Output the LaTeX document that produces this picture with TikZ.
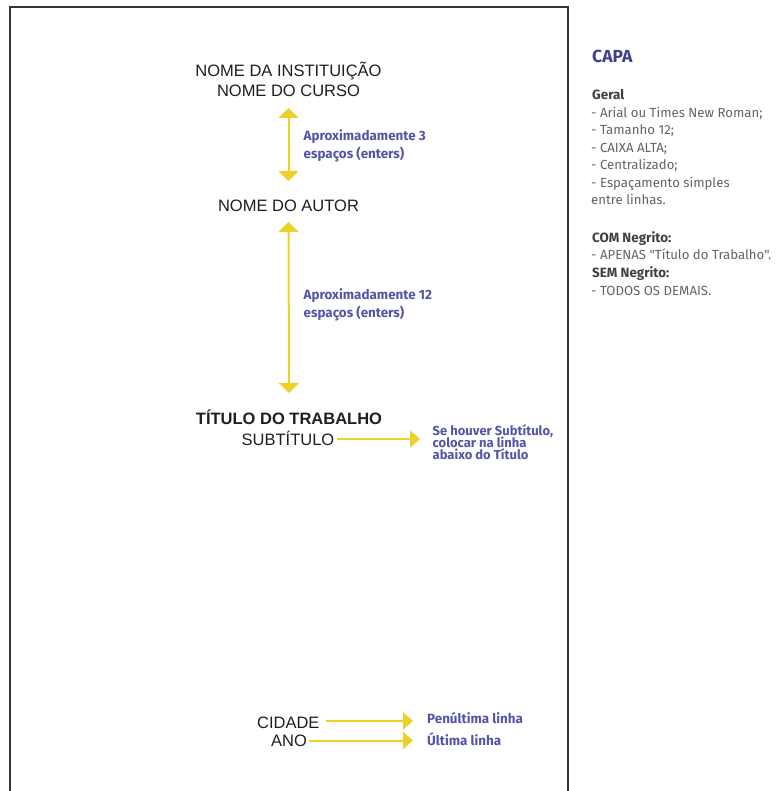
\documentclass[tikz,border=0pt]{standalone}
\usepackage{fontspec}
\setmainfont{Liberation Sans}
\newfontfamily\fira{Fira Sans}
\usetikzlibrary{arrows.meta}
\definecolor{ayellow}{RGB}{236,210,40}
\definecolor{lblue}{RGB}{84,84,168}
\definecolor{capablue}{RGB}{64,64,145}
\definecolor{tgray}{RGB}{100,100,100}
\definecolor{hgray}{RGB}{64,64,64}
\begin{document}
\begin{tikzpicture}[x=1pt,y=-1pt,
  pagetext/.style={font=\fontsize{16.5}{19}\selectfont, text=black!88, inner sep=0pt, anchor=base},
  note/.style={font=\fira\bfseries\fontsize{13.4}{15}\selectfont, text=lblue, inner sep=0pt, anchor=base west},
  side/.style={font=\fira\fontsize{13.2}{15}\selectfont, text=tgray, inner sep=0pt, anchor=base west},
  sidehead/.style={font=\fira\bfseries\fontsize{13.4}{15}\selectfont, text=hgray, inner sep=0pt, anchor=base west},
  yarrow/.style={draw=ayellow, line width=2pt, -{Triangle[width=17pt,length=10pt]}},
  ydouble/.style={draw=ayellow, line width=2pt, {Triangle[width=20pt,length=10pt]}-{Triangle[width=20pt,length=10pt]}},
  pageborder/.style={draw=black!80, line width=2pt}
]
\useasboundingbox (0,0) rectangle (777,791);
\fill[white] (0,0) rectangle (777,791);
\draw[pageborder] (10,795) -- (10,7) -- (568,7) -- (568,795);

% left page texts
\node[pagetext] (inst) at (288.5,77) {NOME DA INSTITUIÇÃO};
\node[pagetext] (curso) at (288.5,97) {NOME DO CURSO};
\node[pagetext] (autor) at (288.5,212) {NOME DO AUTOR};
\node[pagetext, font=\bfseries\fontsize{16.5}{19}\selectfont] (titulo) at (289,424) {TÍTULO DO TRABALHO};
\node[pagetext] (sub) at (288,445) {SUBTÍTULO};
\node[pagetext] (cidade) at (288.3,728) {CIDADE};
\node[pagetext] (ano) at (289,746.5) {ANO};

% notes
\node[note] (n1a) at (303.5,140.7) {Aproximadamente 3};
\node[note] (n1b) at (303.5,158.5) {espaços (enters)};
\node[note] (n2a) at (303.5,299.5) {Aproximadamente 12};
\node[note] (n2b) at (303.5,317.5) {espaços (enters)};
\node[note, font=\fira\bfseries\fontsize{13}{15}\selectfont] (n3a) at (432.5,435.5) {Se houver Subtítulo,};
\node[note, font=\fira\bfseries\fontsize{13}{15}\selectfont] (n3b) at (432.5,447.5) {colocar na linha};
\node[note, font=\fira\bfseries\fontsize{13}{15}\selectfont] (n3c) at (432.5,459.5) {abaixo do Título};
\node[note] (n4) at (427,723.3) {Penúltima linha};
\node[note] (n5) at (427,745) {Última linha};

% arrows
\draw[ydouble] ([yshift=-11pt]curso.base) -- ([yshift=31pt]autor.base);
\draw[ydouble] ([yshift=-10pt]autor.base) -- ([yshift=31pt]titulo.base);
\draw[yarrow, shorten <=2.5pt, shorten >=12.5pt] ([yshift=6pt]sub.base east) -- ([yshift=6pt]sub.base east -| n3a.west);
\draw[yarrow, shorten <=6pt, shorten >=14pt] ([yshift=7pt]cidade.base east) -- ([yshift=7pt]cidade.base east -| n4.west);
\draw[yarrow, shorten <=1.5pt, shorten >=14pt] ([yshift=6pt]ano.base east) -- ([yshift=6pt]ano.base east -| n5.west);

% side panel
\node[inner sep=0pt, anchor=base west, font=\fira\bfseries\fontsize{17.5}{20}\selectfont, text=capablue] (capa) at (592,62.5) {CAPA};
\node[sidehead] (geral) at (592,99.5) {Geral};
\node[side] (s1) at (591,117.5) {- Arial ou Times New Roman;};
\node[side] (s2) at (591,135) {- Tamanho 12;};
\node[side] (s3) at (591,152.5) {- CAIXA ALTA;};
\node[side] (s4) at (591,170) {- Centralizado;};
\node[side] (s5) at (591,187.5) {- Espaçamento simples};
\node[side] (s6) at (591,205) {entre linhas.};
\node[sidehead] (com) at (592,242.5) {COM Negrito:};
\node[side] (s7) at (591,260) {- APENAS "Título do Trabalho".};
\node[sidehead] (sem) at (592,277.5) {SEM Negrito:};
\node[side] (s8) at (591,295) {- TODOS OS DEMAIS.};
\end{tikzpicture}
\end{document}
